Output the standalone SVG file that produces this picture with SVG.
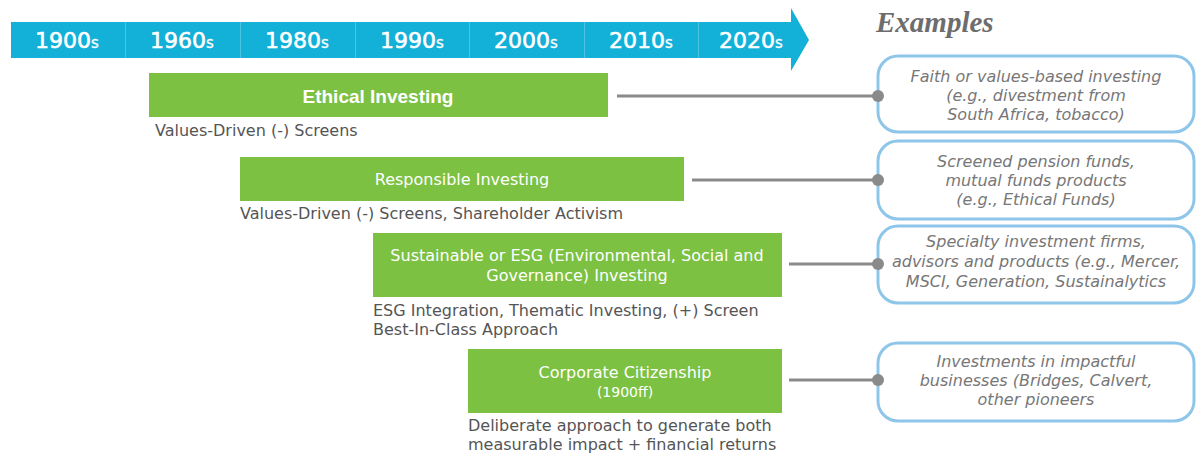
<svg xmlns="http://www.w3.org/2000/svg" width="1196" height="455" viewBox="0 0 1196 455">
<style>
.yr{font-family:"DejaVu Sans",Verdana,sans-serif;font-size:22px;fill:#fff;stroke:#fff;stroke-width:0.6;text-anchor:middle}
.yr tspan.s{font-size:15px;stroke-width:0.3}
.gbox{fill:#7cc142}
.gt{font-family:"DejaVu Sans",Verdana,sans-serif;fill:#fff;text-anchor:middle}
.sub{font-family:"DejaVu Sans",Verdana,sans-serif;font-size:16px;fill:#555}
.ex{fill:#fff;stroke:#8ec6ea;stroke-width:3}
.ext{font-family:"DejaVu Sans",Verdana,sans-serif;font-size:16px;font-style:italic;fill:#777;text-anchor:middle}
.conn{stroke:#8a8a8a;stroke-width:3;fill:none}
.dot{fill:#8a8a8a}
</style>
<g id="timeline">
<polygon points="11,22 791,22 791,8 809,40 791,71 791,58 11,58" fill="#13b0d8"/>
<g stroke="#4cc3e3" stroke-width="1">
<line x1="125.5" y1="22" x2="125.5" y2="58"/>
<line x1="240.5" y1="22" x2="240.5" y2="58"/>
<line x1="355.5" y1="22" x2="355.5" y2="58"/>
<line x1="469.5" y1="22" x2="469.5" y2="58"/>
<line x1="584.5" y1="22" x2="584.5" y2="58"/>
<line x1="698.5" y1="22" x2="698.5" y2="58"/>
</g>
<text class="yr" x="67" y="48">1900<tspan class="s">s</tspan></text>
<text class="yr" x="182" y="48">1960<tspan class="s">s</tspan></text>
<text class="yr" x="297" y="48">1980<tspan class="s">s</tspan></text>
<text class="yr" x="412" y="48">1990<tspan class="s">s</tspan></text>
<text class="yr" x="526" y="48">2000<tspan class="s">s</tspan></text>
<text class="yr" x="641" y="48">2010<tspan class="s">s</tspan></text>
<text class="yr" x="751" y="48">2020<tspan class="s">s</tspan></text>
</g>
<text id="examples-title" x="876" y="32" font-family="Liberation Serif,serif" font-size="29" font-weight="bold" font-style="italic" fill="#6d6d6d">Examples</text>
<g id="ethical">
<rect class="gbox" x="149" y="73" width="459" height="44"/>
<text class="gt" x="378" y="103" style="font-family:'Liberation Sans',Arial,sans-serif;font-size:19px;font-weight:bold">Ethical Investing</text>
<text class="sub" x="155" y="136">Values-Driven (-) Screens</text>
</g>
<g id="responsible">
<rect class="gbox" x="240" y="157" width="444" height="44"/>
<text class="gt" x="462" y="185" font-size="16">Responsible Investing</text>
<text class="sub" x="240" y="219">Values-Driven (-) Screens, Shareholder Activism</text>
</g>
<g id="sustainable">
<rect class="gbox" x="373" y="233" width="409" height="64" fill="#84c341"/>
<text class="gt" x="577" y="261" font-size="16">Sustainable or ESG (Environmental, Social and</text>
<text class="gt" x="577" y="281" font-size="16">Governance) Investing</text>
<text class="sub" x="373" y="316">ESG Integration, Thematic Investing, (+) Screen</text>
<text class="sub" x="373" y="335">Best-In-Class Approach</text>
</g>
<g id="corporate">
<rect class="gbox" x="468" y="349" width="314" height="64"/>
<text class="gt" x="625" y="378" font-size="16">Corporate Citizenship</text>
<text class="gt" x="625" y="397" font-size="14">(1900ff)</text>
<text class="sub" x="468" y="431">Deliberate approach to generate both</text>
<text class="sub" x="468" y="450">measurable impact + financial returns</text>
</g>
<g id="ex1">
<rect class="ex" x="878" y="56" width="316" height="76" rx="20"/>
<text class="ext" x="1036" y="82">Faith or values-based investing</text>
<text class="ext" x="1036" y="101">(e.g., divestment from</text>
<text class="ext" x="1036" y="120">South Africa, tobacco)</text>
</g>
<g id="ex2">
<rect class="ex" x="878" y="141" width="316" height="78" rx="20"/>
<text class="ext" x="1036" y="167">Screened pension funds,</text>
<text class="ext" x="1036" y="186">mutual funds products</text>
<text class="ext" x="1036" y="205">(e.g., Ethical Funds)</text>
</g>
<g id="ex3">
<rect class="ex" x="878" y="226" width="316" height="77" rx="20"/>
<text class="ext" x="1036" y="247">Specialty investment firms,</text>
<text class="ext" x="1036" y="267">advisors and products (e.g., Mercer,</text>
<text class="ext" x="1036" y="287">MSCI, Generation, Sustainalytics</text>
</g>
<g id="ex4">
<rect class="ex" x="878" y="343" width="316" height="78" rx="20"/>
<text class="ext" x="1036" y="367">Investments in impactful</text>
<text class="ext" x="1036" y="386">businesses (Bridges, Calvert,</text>
<text class="ext" x="1036" y="405">other pioneers</text>
</g>
<g id="connectors">
<line class="conn" x1="617" y1="96" x2="878" y2="96"/>
<circle class="dot" cx="878" cy="96" r="6"/>
<line class="conn" x1="692" y1="180" x2="878" y2="180"/>
<circle class="dot" cx="878" cy="180" r="6"/>
<line class="conn" x1="789" y1="264" x2="878" y2="264"/>
<circle class="dot" cx="878" cy="264" r="6"/>
<line class="conn" x1="789" y1="380" x2="878" y2="380"/>
<circle class="dot" cx="878" cy="380" r="6"/>
</g>
</svg>
